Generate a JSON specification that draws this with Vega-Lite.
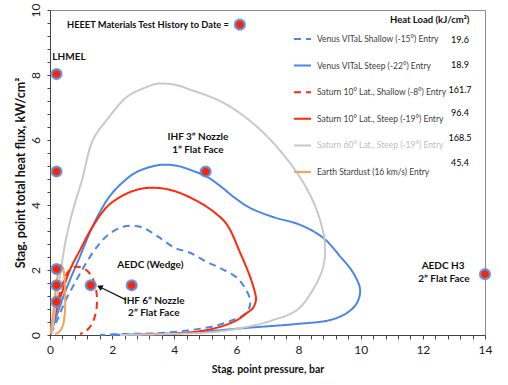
{
  "$schema": "https://vega.github.io/schema/vega-lite/v6.json",
  "width": 435,
  "height": 325,
  "autosize": "none",
  "padding": {"left": 50, "top": 10, "right": 23, "bottom": 50},
  "background": "white",
  "config": {
    "font": "Lato",
    "view": {"stroke": "#8c8c8c", "strokeWidth": 1},
    "axis": {"grid": false, "domainColor": "#444444", "tickColor": "#444444", "labelColor": "#222222", "titleColor": "#111111", "labelFont": "Lato", "titleFont": "Lato", "titleFontWeight": "bold", "labelOverlap": false, "labelBound": false}
  },
  "resolve": {"axis": {"x": "independent", "y": "independent"}},
  "datasets": {
    "curves": [
      {"series": "Venus VITaL Shallow (-15°) Entry", "i": 0, "p": 0.03, "q": 0.03},
      {"series": "Venus VITaL Shallow (-15°) Entry", "i": 1, "p": 0.26, "q": 0.52},
      {"series": "Venus VITaL Shallow (-15°) Entry", "i": 2, "p": 0.51, "q": 1.08},
      {"series": "Venus VITaL Shallow (-15°) Entry", "i": 3, "p": 0.80, "q": 1.60},
      {"series": "Venus VITaL Shallow (-15°) Entry", "i": 4, "p": 1.13, "q": 2.16},
      {"series": "Venus VITaL Shallow (-15°) Entry", "i": 5, "p": 1.51, "q": 2.71},
      {"series": "Venus VITaL Shallow (-15°) Entry", "i": 6, "p": 1.87, "q": 3.08},
      {"series": "Venus VITaL Shallow (-15°) Entry", "i": 7, "p": 2.35, "q": 3.33},
      {"series": "Venus VITaL Shallow (-15°) Entry", "i": 8, "p": 2.90, "q": 3.33},
      {"series": "Venus VITaL Shallow (-15°) Entry", "i": 9, "p": 3.44, "q": 3.05},
      {"series": "Venus VITaL Shallow (-15°) Entry", "i": 10, "p": 4.02, "q": 2.68},
      {"series": "Venus VITaL Shallow (-15°) Entry", "i": 11, "p": 4.51, "q": 2.53},
      {"series": "Venus VITaL Shallow (-15°) Entry", "i": 12, "p": 5.05, "q": 2.25},
      {"series": "Venus VITaL Shallow (-15°) Entry", "i": 13, "p": 5.54, "q": 2.03},
      {"series": "Venus VITaL Shallow (-15°) Entry", "i": 14, "p": 6.02, "q": 1.76},
      {"series": "Venus VITaL Shallow (-15°) Entry", "i": 15, "p": 6.31, "q": 1.39},
      {"series": "Venus VITaL Shallow (-15°) Entry", "i": 16, "p": 6.44, "q": 1.08},
      {"series": "Venus VITaL Shallow (-15°) Entry", "i": 17, "p": 6.41, "q": 0.83},
      {"series": "Venus VITaL Shallow (-15°) Entry", "i": 18, "p": 6.24, "q": 0.62},
      {"series": "Venus VITaL Shallow (-15°) Entry", "i": 19, "p": 5.89, "q": 0.46},
      {"series": "Venus VITaL Shallow (-15°) Entry", "i": 20, "p": 5.31, "q": 0.28},
      {"series": "Venus VITaL Shallow (-15°) Entry", "i": 21, "p": 4.51, "q": 0.15},
      {"series": "Venus VITaL Shallow (-15°) Entry", "i": 22, "p": 3.54, "q": 0.06},
      {"series": "Venus VITaL Shallow (-15°) Entry", "i": 23, "p": 2.41, "q": 0.03},
      {"series": "Venus VITaL Shallow (-15°) Entry", "i": 24, "p": 1.61, "q": 0.0},

      {"series": "Venus VITaL Steep (-22°) Entry", "i": 0, "p": 0.02, "q": 0.03},
      {"series": "Venus VITaL Steep (-22°) Entry", "i": 1, "p": 0.19, "q": 0.52},
      {"series": "Venus VITaL Steep (-22°) Entry", "i": 2, "p": 0.39, "q": 1.08},
      {"series": "Venus VITaL Steep (-22°) Entry", "i": 3, "p": 0.64, "q": 1.69},
      {"series": "Venus VITaL Steep (-22°) Entry", "i": 4, "p": 0.97, "q": 2.43},
      {"series": "Venus VITaL Steep (-22°) Entry", "i": 5, "p": 1.29, "q": 3.17},
      {"series": "Venus VITaL Steep (-22°) Entry", "i": 6, "p": 1.61, "q": 3.79},
      {"series": "Venus VITaL Steep (-22°) Entry", "i": 7, "p": 1.93, "q": 4.28},
      {"series": "Venus VITaL Steep (-22°) Entry", "i": 8, "p": 2.32, "q": 4.68},
      {"series": "Venus VITaL Steep (-22°) Entry", "i": 9, "p": 2.74, "q": 4.99},
      {"series": "Venus VITaL Steep (-22°) Entry", "i": 10, "p": 3.22, "q": 5.17},
      {"series": "Venus VITaL Steep (-22°) Entry", "i": 11, "p": 3.64, "q": 5.24},
      {"series": "Venus VITaL Steep (-22°) Entry", "i": 12, "p": 4.12, "q": 5.20},
      {"series": "Venus VITaL Steep (-22°) Entry", "i": 13, "p": 4.60, "q": 5.05},
      {"series": "Venus VITaL Steep (-22°) Entry", "i": 14, "p": 5.05, "q": 4.87},
      {"series": "Venus VITaL Steep (-22°) Entry", "i": 15, "p": 5.47, "q": 4.59},
      {"series": "Venus VITaL Steep (-22°) Entry", "i": 16, "p": 5.95, "q": 4.22},
      {"series": "Venus VITaL Steep (-22°) Entry", "i": 17, "p": 6.44, "q": 3.91},
      {"series": "Venus VITaL Steep (-22°) Entry", "i": 18, "p": 7.18, "q": 3.63},
      {"series": "Venus VITaL Steep (-22°) Entry", "i": 19, "p": 8.05, "q": 3.39},
      {"series": "Venus VITaL Steep (-22°) Entry", "i": 20, "p": 8.79, "q": 2.99},
      {"series": "Venus VITaL Steep (-22°) Entry", "i": 21, "p": 9.33, "q": 2.43},
      {"series": "Venus VITaL Steep (-22°) Entry", "i": 22, "p": 9.78, "q": 1.88},
      {"series": "Venus VITaL Steep (-22°) Entry", "i": 23, "p": 9.98, "q": 1.39},
      {"series": "Venus VITaL Steep (-22°) Entry", "i": 24, "p": 9.88, "q": 0.99},
      {"series": "Venus VITaL Steep (-22°) Entry", "i": 25, "p": 9.56, "q": 0.68},
      {"series": "Venus VITaL Steep (-22°) Entry", "i": 26, "p": 9.01, "q": 0.46},
      {"series": "Venus VITaL Steep (-22°) Entry", "i": 27, "p": 7.95, "q": 0.34},
      {"series": "Venus VITaL Steep (-22°) Entry", "i": 28, "p": 6.34, "q": 0.22},
      {"series": "Venus VITaL Steep (-22°) Entry", "i": 29, "p": 4.73, "q": 0.09},
      {"series": "Venus VITaL Steep (-22°) Entry", "i": 30, "p": 3.22, "q": 0.03},
      {"series": "Venus VITaL Steep (-22°) Entry", "i": 31, "p": 1.93, "q": 0.0},

      {"series": "Saturn 10° Lat., Shallow (-8°) Entry", "i": 0, "p": 0.03, "q": 0.03},
      {"series": "Saturn 10° Lat., Shallow (-8°) Entry", "i": 1, "p": 0.13, "q": 0.52},
      {"series": "Saturn 10° Lat., Shallow (-8°) Entry", "i": 2, "p": 0.26, "q": 1.08},
      {"series": "Saturn 10° Lat., Shallow (-8°) Entry", "i": 3, "p": 0.42, "q": 1.60},
      {"series": "Saturn 10° Lat., Shallow (-8°) Entry", "i": 4, "p": 0.58, "q": 1.94},
      {"series": "Saturn 10° Lat., Shallow (-8°) Entry", "i": 5, "p": 0.80, "q": 2.09},
      {"series": "Saturn 10° Lat., Shallow (-8°) Entry", "i": 6, "p": 1.06, "q": 2.06},
      {"series": "Saturn 10° Lat., Shallow (-8°) Entry", "i": 7, "p": 1.29, "q": 1.88},
      {"series": "Saturn 10° Lat., Shallow (-8°) Entry", "i": 8, "p": 1.45, "q": 1.54},
      {"series": "Saturn 10° Lat., Shallow (-8°) Entry", "i": 9, "p": 1.51, "q": 1.14},
      {"series": "Saturn 10° Lat., Shallow (-8°) Entry", "i": 10, "p": 1.48, "q": 0.71},
      {"series": "Saturn 10° Lat., Shallow (-8°) Entry", "i": 11, "p": 1.35, "q": 0.34},
      {"series": "Saturn 10° Lat., Shallow (-8°) Entry", "i": 12, "p": 1.16, "q": 0.12},
      {"series": "Saturn 10° Lat., Shallow (-8°) Entry", "i": 13, "p": 0.97, "q": 0.03},

      {"series": "Saturn 10° Lat., Steep (-19°) Entry", "i": 0, "p": 0.03, "q": 0.03},
      {"series": "Saturn 10° Lat., Steep (-19°) Entry", "i": 1, "p": 0.19, "q": 0.71},
      {"series": "Saturn 10° Lat., Steep (-19°) Entry", "i": 2, "p": 0.39, "q": 1.32},
      {"series": "Saturn 10° Lat., Steep (-19°) Entry", "i": 3, "p": 0.64, "q": 2.00},
      {"series": "Saturn 10° Lat., Steep (-19°) Entry", "i": 4, "p": 0.97, "q": 2.62},
      {"series": "Saturn 10° Lat., Steep (-19°) Entry", "i": 5, "p": 1.35, "q": 3.30},
      {"series": "Saturn 10° Lat., Steep (-19°) Entry", "i": 6, "p": 1.83, "q": 3.94},
      {"series": "Saturn 10° Lat., Steep (-19°) Entry", "i": 7, "p": 2.32, "q": 4.28},
      {"series": "Saturn 10° Lat., Steep (-19°) Entry", "i": 8, "p": 2.80, "q": 4.47},
      {"series": "Saturn 10° Lat., Steep (-19°) Entry", "i": 9, "p": 3.22, "q": 4.53},
      {"series": "Saturn 10° Lat., Steep (-19°) Entry", "i": 10, "p": 3.70, "q": 4.50},
      {"series": "Saturn 10° Lat., Steep (-19°) Entry", "i": 11, "p": 4.18, "q": 4.37},
      {"series": "Saturn 10° Lat., Steep (-19°) Entry", "i": 12, "p": 4.83, "q": 4.07},
      {"series": "Saturn 10° Lat., Steep (-19°) Entry", "i": 13, "p": 5.31, "q": 3.76},
      {"series": "Saturn 10° Lat., Steep (-19°) Entry", "i": 14, "p": 5.70, "q": 3.39},
      {"series": "Saturn 10° Lat., Steep (-19°) Entry", "i": 15, "p": 6.12, "q": 2.53},
      {"series": "Saturn 10° Lat., Steep (-19°) Entry", "i": 16, "p": 6.44, "q": 1.79},
      {"series": "Saturn 10° Lat., Steep (-19°) Entry", "i": 17, "p": 6.60, "q": 1.29},
      {"series": "Saturn 10° Lat., Steep (-19°) Entry", "i": 18, "p": 6.63, "q": 1.08},
      {"series": "Saturn 10° Lat., Steep (-19°) Entry", "i": 19, "p": 6.53, "q": 0.83},
      {"series": "Saturn 10° Lat., Steep (-19°) Entry", "i": 20, "p": 6.34, "q": 0.68},
      {"series": "Saturn 10° Lat., Steep (-19°) Entry", "i": 21, "p": 6.02, "q": 0.46},
      {"series": "Saturn 10° Lat., Steep (-19°) Entry", "i": 22, "p": 5.47, "q": 0.25},
      {"series": "Saturn 10° Lat., Steep (-19°) Entry", "i": 23, "p": 4.83, "q": 0.12},
      {"series": "Saturn 10° Lat., Steep (-19°) Entry", "i": 24, "p": 3.86, "q": 0.03},
      {"series": "Saturn 10° Lat., Steep (-19°) Entry", "i": 25, "p": 2.74, "q": 0.0},

      {"series": "Saturn 60° Lat., Steep (-19°) Entry", "i": 0, "p": 0.06, "q": 0.03},
      {"series": "Saturn 60° Lat., Steep (-19°) Entry", "i": 1, "p": 0.16, "q": 0.77},
      {"series": "Saturn 60° Lat., Steep (-19°) Entry", "i": 2, "p": 0.26, "q": 1.39},
      {"series": "Saturn 60° Lat., Steep (-19°) Entry", "i": 3, "p": 0.35, "q": 2.00},
      {"series": "Saturn 60° Lat., Steep (-19°) Entry", "i": 4, "p": 0.51, "q": 2.93},
      {"series": "Saturn 60° Lat., Steep (-19°) Entry", "i": 5, "p": 0.74, "q": 3.85},
      {"series": "Saturn 60° Lat., Steep (-19°) Entry", "i": 6, "p": 1.03, "q": 4.77},
      {"series": "Saturn 60° Lat., Steep (-19°) Entry", "i": 7, "p": 1.38, "q": 6.00},
      {"series": "Saturn 60° Lat., Steep (-19°) Entry", "i": 8, "p": 1.83, "q": 6.62},
      {"series": "Saturn 60° Lat., Steep (-19°) Entry", "i": 9, "p": 2.48, "q": 7.33},
      {"series": "Saturn 60° Lat., Steep (-19°) Entry", "i": 10, "p": 3.06, "q": 7.61},
      {"series": "Saturn 60° Lat., Steep (-19°) Entry", "i": 11, "p": 3.44, "q": 7.73},
      {"series": "Saturn 60° Lat., Steep (-19°) Entry", "i": 12, "p": 4.02, "q": 7.70},
      {"series": "Saturn 60° Lat., Steep (-19°) Entry", "i": 13, "p": 4.51, "q": 7.55},
      {"series": "Saturn 60° Lat., Steep (-19°) Entry", "i": 14, "p": 5.57, "q": 7.15},
      {"series": "Saturn 60° Lat., Steep (-19°) Entry", "i": 15, "p": 6.66, "q": 6.41},
      {"series": "Saturn 60° Lat., Steep (-19°) Entry", "i": 16, "p": 7.72, "q": 5.30},
      {"series": "Saturn 60° Lat., Steep (-19°) Entry", "i": 17, "p": 8.37, "q": 4.31},
      {"series": "Saturn 60° Lat., Steep (-19°) Entry", "i": 18, "p": 8.69, "q": 3.54},
      {"series": "Saturn 60° Lat., Steep (-19°) Entry", "i": 19, "p": 8.85, "q": 2.77},
      {"series": "Saturn 60° Lat., Steep (-19°) Entry", "i": 20, "p": 8.79, "q": 2.09},
      {"series": "Saturn 60° Lat., Steep (-19°) Entry", "i": 21, "p": 8.46, "q": 1.39},
      {"series": "Saturn 60° Lat., Steep (-19°) Entry", "i": 22, "p": 7.95, "q": 0.77},
      {"series": "Saturn 60° Lat., Steep (-19°) Entry", "i": 23, "p": 7.18, "q": 0.46},
      {"series": "Saturn 60° Lat., Steep (-19°) Entry", "i": 24, "p": 6.34, "q": 0.25},
      {"series": "Saturn 60° Lat., Steep (-19°) Entry", "i": 25, "p": 5.25, "q": 0.09},
      {"series": "Saturn 60° Lat., Steep (-19°) Entry", "i": 26, "p": 3.77, "q": 0.03},
      {"series": "Saturn 60° Lat., Steep (-19°) Entry", "i": 27, "p": 2.25, "q": 0.0},

      {"series": "Earth Stardust (16 km/s) Entry", "i": 0, "p": 0.02, "q": 0.03},
      {"series": "Earth Stardust (16 km/s) Entry", "i": 1, "p": 0.06, "q": 0.40},
      {"series": "Earth Stardust (16 km/s) Entry", "i": 2, "p": 0.13, "q": 0.92},
      {"series": "Earth Stardust (16 km/s) Entry", "i": 3, "p": 0.19, "q": 1.45},
      {"series": "Earth Stardust (16 km/s) Entry", "i": 4, "p": 0.26, "q": 1.88},
      {"series": "Earth Stardust (16 km/s) Entry", "i": 5, "p": 0.34, "q": 2.16},
      {"series": "Earth Stardust (16 km/s) Entry", "i": 6, "p": 0.42, "q": 2.05},
      {"series": "Earth Stardust (16 km/s) Entry", "i": 7, "p": 0.47, "q": 1.69},
      {"series": "Earth Stardust (16 km/s) Entry", "i": 8, "p": 0.49, "q": 1.08},
      {"series": "Earth Stardust (16 km/s) Entry", "i": 9, "p": 0.47, "q": 0.62},
      {"series": "Earth Stardust (16 km/s) Entry", "i": 10, "p": 0.41, "q": 0.28},
      {"series": "Earth Stardust (16 km/s) Entry", "i": 11, "p": 0.29, "q": 0.09},
      {"series": "Earth Stardust (16 km/s) Entry", "i": 12, "p": 0.16, "q": 0.03}
    ],
    "heat": [
      {"series": "Venus VITaL Shallow (-15°) Entry", "heat": "19.6"},
      {"series": "Venus VITaL Steep (-22°) Entry", "heat": "18.9"},
      {"series": "Saturn 10° Lat., Shallow (-8°) Entry", "heat": "161.7"},
      {"series": "Saturn 10° Lat., Steep (-19°) Entry", "heat": "96.4"},
      {"series": "Saturn 60° Lat., Steep (-19°) Entry", "heat": "168.5"},
      {"series": "Earth Stardust (16 km/s) Entry", "heat": "45.4"}
    ],
    "tests": [
      {"p": 0.21, "q": 8.03},
      {"p": 0.21, "q": 5.03},
      {"p": 5.01, "q": 5.03},
      {"p": 0.21, "q": 2.03},
      {"p": 0.21, "q": 1.53},
      {"p": 0.21, "q": 1.02},
      {"p": 1.31, "q": 1.53},
      {"p": 2.63, "q": 1.53},
      {"p": 14.0, "q": 1.87},
      {"p": 6.11, "q": 9.55}
    ],
    "notes": [
      {"p": 0.61, "q": 8.56, "text": "LHMEL"},
      {"p": 4.76, "q": 6.08, "text": "IHF 3” Nozzle"},
      {"p": 4.76, "q": 5.68, "text": "1” Flat Face"},
      {"p": 3.23, "q": 2.15, "text": "AEDC (Wedge)"},
      {"p": 3.35, "q": 1.05, "text": "IHF 6” Nozzle"},
      {"p": 3.34, "q": 0.68, "text": "2” Flat Face"},
      {"p": 12.65, "q": 2.13, "text": "AEDC H3"},
      {"p": 12.68, "q": 1.73, "text": "2” Flat Face"}
    ]
  },
  "layer": [
    {
      "data": {"name": "curves"},
      "mark": {"type": "line", "interpolate": "catmull-rom", "strokeWidth": 2},
      "encoding": {
        "x": {"field": "p", "type": "quantitative", "scale": {"domain": [0, 14], "nice": false, "zero": false},
          "axis": {"orient": "bottom", "title": "Stag. point pressure, bar", "values": [0, 2, 4, 6, 8, 10, 12, 14], "format": "d", "labelFlush": false, "tickSize": 4, "labelPadding": 5, "labelFontSize": 12, "titleFontSize": 10.5, "titlePadding": 9}},
        "y": {"field": "q", "type": "quantitative", "scale": {"domain": [0, 10], "nice": false, "zero": false},
          "axis": {"orient": "left", "title": "Stag. point total heat flux, kW/cm²", "values": [0, 2, 4, 6, 8, 10], "format": "d", "tickSize": 3, "labelAngle": 270, "labelAlign": "center", "labelBaseline": "alphabetic", "labelPadding": 8, "labelFontSize": 12, "titleFontSize": 12.5, "titlePadding": 2}},
        "order": {"field": "i", "type": "quantitative"},
        "color": {"field": "series", "type": "nominal",
          "scale": {"domain": ["Venus VITaL Shallow (-15°) Entry", "Venus VITaL Steep (-22°) Entry", "Saturn 10° Lat., Shallow (-8°) Entry", "Saturn 10° Lat., Steep (-19°) Entry", "Saturn 60° Lat., Steep (-19°) Entry", "Earth Stardust (16 km/s) Entry"],
            "range": ["#4a86e8", "#4a86e8", "#ff2a0a", "#ff2a0a", "#c8c8c8", "#f6a05a"]},
          "legend": {"orient": "none", "legendX": 243, "legendY": 19.5, "title": null, "padding": 0, "symbolType": "stroke", "symbolSize": 289, "symbolStrokeWidth": 2, "labelFont": "Lato", "labelFontSize": 8.5, "labelColor": "#404040", "labelOffset": 5, "rowPadding": 12.6, "labelLimit": 300,
            "encode": {"labels": {"update": {"fill": {"signal": "datum.label === 'Saturn 60° Lat., Steep (-19°) Entry' ? '#bdbdbd' : '#404040'"}}}}}},
        "strokeDash": {"field": "series", "type": "nominal",
          "scale": {"domain": ["Venus VITaL Shallow (-15°) Entry", "Venus VITaL Steep (-22°) Entry", "Saturn 10° Lat., Shallow (-8°) Entry", "Saturn 10° Lat., Steep (-19°) Entry", "Saturn 60° Lat., Steep (-19°) Entry", "Earth Stardust (16 km/s) Entry"],
            "range": [[7, 5], [1, 0], [7, 5], [1, 0], [1, 0], [1, 0]]}}
      }
    },
    {
      "data": {"name": "heat"},
      "mark": {"type": "point", "opacity": 0},
      "encoding": {
        "shape": {"field": "heat", "type": "nominal",
          "scale": {"domain": ["19.6", "18.9", "161.7", "96.4", "168.5", "45.4"]},
          "legend": {"orient": "none", "legendX": 340, "legendY": 5, "title": "Heat Load (kJ/cm²)", "titleFont": "Lato", "titleFontSize": 9.5, "titleFontWeight": "bold", "titleColor": "#111111", "titleAnchor": "start", "titlePadding": 6, "padding": 0, "symbolSize": 289, "symbolStrokeWidth": 2, "symbolOpacity": 0, "labelFont": "Lato", "labelFontSize": 9, "labelAlign": "center", "labelOffset": 51, "rowPadding": 6.8,
            "encode": {"labels": {"update": {"fill": {"signal": "datum.label === '168.5' ? '#bdbdbd' : '#333333'"}}}}}}
      }
    },
    {
      "data": {"name": "tests"},
      "mark": {"type": "point", "filled": true, "fill": "#ff2200", "fillOpacity": 1, "stroke": "#5b8fd6", "strokeWidth": 2.5, "strokeOpacity": 0.85, "size": 95},
      "encoding": {
        "x": {"field": "p", "type": "quantitative", "scale": {"domain": [0, 14], "nice": false, "zero": false},
          "axis": {"orient": "bottom", "values": [0.4,0.8,1.2,1.6,2.4,2.8,3.2,3.6,4.4,4.8,5.2,5.6,6.4,6.8,7.2,7.6,8.4,8.8,9.2,9.6,10.4,10.8,11.2,11.6,12.4,12.8,13.2,13.6], "labels": false, "domain": false, "title": null, "tickSize": 4}},
        "y": {"field": "q", "type": "quantitative", "scale": {"domain": [0, 10], "nice": false, "zero": false},
          "axis": {"orient": "left", "values": [0.4,0.8,1.2,1.6,2.4,2.8,3.2,3.6,4.4,4.8,5.2,5.6,6.4,6.8,7.2,7.6,8.4,8.8,9.2,9.6], "labels": false, "domain": false, "title": null, "tickSize": 3}}
      }
    },
    {
      "data": {"name": "notes"},
      "mark": {"type": "text", "font": "Lato", "fontWeight": "bold", "fontSize": 10, "fill": "#111111", "align": "center", "baseline": "middle"},
      "encoding": {
        "x": {"field": "p", "type": "quantitative", "scale": {"domain": [0, 14], "nice": false, "zero": false}, "axis": null},
        "y": {"field": "q", "type": "quantitative", "scale": {"domain": [0, 10], "nice": false, "zero": false}, "axis": null},
        "text": {"field": "text"}
      }
    },
    {
      "data": {"values": [{"p": 5.76, "q": 9.55, "text": "HEEET Materials Test History to Date ="}]},
      "mark": {"type": "text", "font": "Lato", "fontWeight": "bold", "fontSize": 9.3, "fill": "#111111", "align": "right", "baseline": "middle"},
      "encoding": {
        "x": {"field": "p", "type": "quantitative", "scale": {"domain": [0, 14], "nice": false, "zero": false}, "axis": null},
        "y": {"field": "q", "type": "quantitative", "scale": {"domain": [0, 10], "nice": false, "zero": false}, "axis": null},
        "text": {"field": "text"}
      }
    },
    {
      "data": {"values": [{"p": 2.45, "q": 1.08, "p2": 1.62, "q2": 1.47}]},
      "mark": {"type": "rule", "color": "#111111", "strokeWidth": 1.3},
      "encoding": {
        "x": {"field": "p", "type": "quantitative", "scale": {"domain": [0, 14], "nice": false, "zero": false}, "axis": null},
        "y": {"field": "q", "type": "quantitative", "scale": {"domain": [0, 10], "nice": false, "zero": false}, "axis": null},
        "x2": {"field": "p2"},
        "y2": {"field": "q2"}
      }
    },
    {
      "data": {"values": [{"p": 1.6, "q": 1.48}]},
      "mark": {"type": "point", "shape": "triangle-up", "filled": true, "fill": "#111111", "size": 40, "angle": 296, "opacity": 1},
      "encoding": {
        "x": {"field": "p", "type": "quantitative", "scale": {"domain": [0, 14], "nice": false, "zero": false}, "axis": null},
        "y": {"field": "q", "type": "quantitative", "scale": {"domain": [0, 10], "nice": false, "zero": false}, "axis": null}
      }
    }
  ]
}
